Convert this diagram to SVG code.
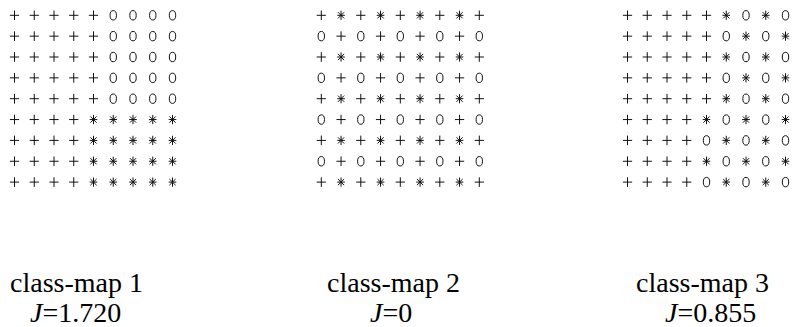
<svg xmlns="http://www.w3.org/2000/svg" width="795" height="327" viewBox="0 0 795 327">
<style>
.m{fill:none;stroke:#111;stroke-width:1}
</style>
<defs>
<path id="p" class="m" d="M-4.6 0H4.6M0 -4.8V4.8"/>
<ellipse id="o" class="m" rx="3.2" ry="4.7"/>
<path id="s" class="m" d="M0 -4.6V4.6M-3.8 0H3.8M-3.1 -3.1L3.1 3.1M-3.1 3.1L3.1 -3.1"/>
<g id="rA"><use href="#p" x="0"/><use href="#p" x="19.75"/><use href="#p" x="39.5"/><use href="#p" x="59.25"/><use href="#p" x="79"/><use href="#o" x="98.75"/><use href="#o" x="118.5"/><use href="#o" x="138.25"/><use href="#o" x="158"/></g>
<g id="rB"><use href="#p" x="0"/><use href="#p" x="19.75"/><use href="#p" x="39.5"/><use href="#p" x="59.25"/><use href="#s" x="79"/><use href="#s" x="98.75"/><use href="#s" x="118.5"/><use href="#s" x="138.25"/><use href="#s" x="158"/></g>
<g id="rC"><use href="#p" x="0"/><use href="#s" x="19.75"/><use href="#p" x="39.5"/><use href="#s" x="59.25"/><use href="#p" x="79"/><use href="#s" x="98.75"/><use href="#p" x="118.5"/><use href="#s" x="138.25"/><use href="#p" x="158"/></g>
<g id="rD"><use href="#o" x="0"/><use href="#p" x="19.75"/><use href="#o" x="39.5"/><use href="#p" x="59.25"/><use href="#o" x="79"/><use href="#p" x="98.75"/><use href="#o" x="118.5"/><use href="#p" x="138.25"/><use href="#o" x="158"/></g>
<g id="rE"><use href="#p" x="0"/><use href="#p" x="19.75"/><use href="#p" x="39.5"/><use href="#p" x="59.25"/><use href="#p" x="79"/><use href="#s" x="98.75"/><use href="#o" x="118.5"/><use href="#s" x="138.25"/><use href="#o" x="158"/></g>
<g id="rF"><use href="#p" x="0"/><use href="#p" x="19.75"/><use href="#p" x="39.5"/><use href="#p" x="59.25"/><use href="#p" x="79"/><use href="#o" x="98.75"/><use href="#s" x="118.5"/><use href="#o" x="138.25"/><use href="#s" x="158"/></g>
<g id="rG"><use href="#p" x="0"/><use href="#p" x="19.75"/><use href="#p" x="39.5"/><use href="#p" x="59.25"/><use href="#s" x="79"/><use href="#o" x="98.75"/><use href="#s" x="118.5"/><use href="#o" x="138.25"/><use href="#s" x="158"/></g>
<g id="rH"><use href="#p" x="0"/><use href="#p" x="19.75"/><use href="#p" x="39.5"/><use href="#p" x="59.25"/><use href="#o" x="79"/><use href="#s" x="98.75"/><use href="#o" x="118.5"/><use href="#s" x="138.25"/><use href="#o" x="158"/></g>
</defs>
<rect width="795" height="327" fill="#fff"/>

<g id="map1" transform="translate(14.5,15.3)">
<use href="#rA" y="0"/><use href="#rA" y="20.85"/><use href="#rA" y="41.7"/><use href="#rA" y="62.55"/><use href="#rA" y="83.4"/>
<use href="#rB" y="104.25"/><use href="#rB" y="125.1"/><use href="#rB" y="145.95"/><use href="#rB" y="166.8"/>
</g>

<g id="map2" transform="translate(321.3,15.3)">
<use href="#rC" y="0"/><use href="#rD" y="20.85"/><use href="#rC" y="41.7"/><use href="#rD" y="62.55"/><use href="#rC" y="83.4"/>
<use href="#rD" y="104.25"/><use href="#rC" y="125.1"/><use href="#rD" y="145.95"/><use href="#rC" y="166.8"/>
</g>

<g id="map3" transform="translate(627.5,15.3)">
<use href="#rE" y="0"/><use href="#rF" y="20.85"/><use href="#rE" y="41.7"/><use href="#rF" y="62.55"/><use href="#rE" y="83.4"/>
<use href="#rG" y="104.25"/><use href="#rH" y="125.1"/><use href="#rG" y="145.95"/><use href="#rH" y="166.8"/>
</g>

<g font-family="'Liberation Serif', 'Times New Roman', 'DejaVu Serif', serif" font-size="28" fill="#000">
<g id="label1">
<text x="10" y="292">class-map 1</text>
<text x="30" y="322"><tspan font-style="italic">J</tspan>=1.720</text>
</g>
<g id="label2">
<text x="327" y="292">class-map 2</text>
<text x="370" y="322"><tspan font-style="italic">J</tspan>=0</text>
</g>
<g id="label3">
<text x="636" y="292">class-map 3</text>
<text x="665" y="322"><tspan font-style="italic">J</tspan>=0.855</text>
</g>
</g>
</svg>
